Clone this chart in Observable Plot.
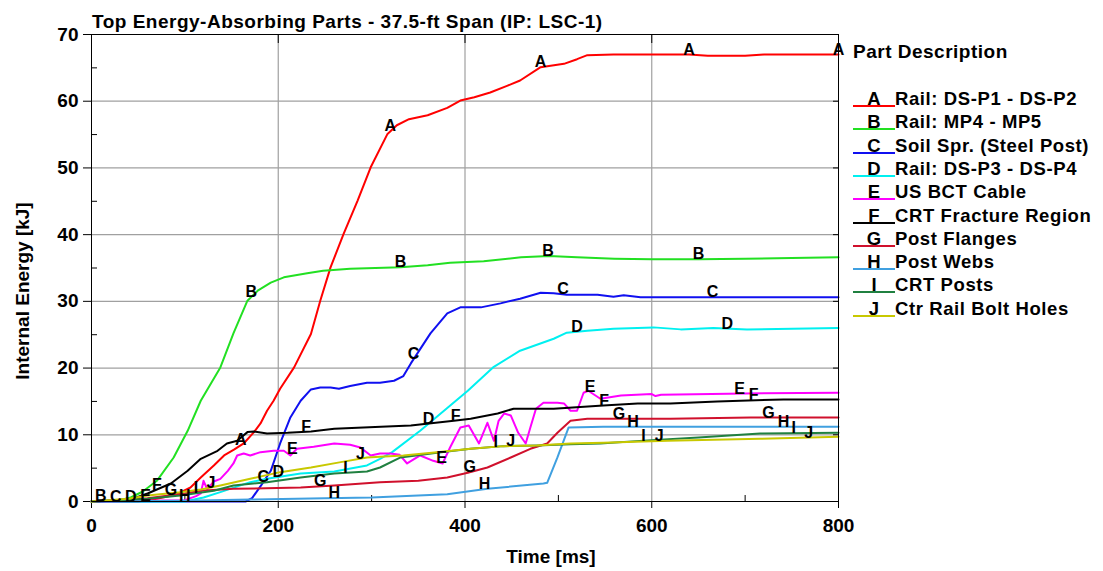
<!DOCTYPE html>
<html><head><meta charset="utf-8">
<script src="https://cdn.jsdelivr.net/npm/d3@7"></script>
<script src="https://cdn.jsdelivr.net/npm/@observablehq/plot@0.6"></script>
<style>
body{margin:0;background:#fff;font-family:"Liberation Sans",Arial,sans-serif;}
#wrap{position:relative;width:1103px;height:571px;overflow:hidden;background:#fff;}
#chart{position:absolute;left:0;top:0;}
.t{position:absolute;font-weight:bold;white-space:nowrap;color:#000;line-height:1;}
.row{position:absolute;left:853px;font-weight:bold;font-size:18.5px;white-space:nowrap;line-height:1;letter-spacing:0.6px;}
.sw{display:inline-block;width:42px;text-align:center;border-bottom:2px solid;line-height:13px;letter-spacing:0;}
</style></head><body><div id="wrap"><div id="chart"></div></div>
<script>
// ---- data ----
const title = "Top Energy-Absorbing Parts - 37.5-ft Span (IP: LSC-1)";
const xLabel = "Time [ms]";
const yLabel = "Internal Energy [kJ]";
const legendTitle = "Part Description";
const keys = ["A","B","C","D","E","F","G","H","I","J"];
const names = ["Rail: DS-P1 - DS-P2","Rail: MP4 - MP5","Soil Spr. (Steel Post)","Rail: DS-P3 - DS-P4","US BCT Cable","CRT Fracture Region","Post Flanges","Post Webs","CRT Posts","Ctr Rail Bolt Holes"];
const colors = ["#ff0000","#22e022","#1010f0","#00f0f0","#ff00ff","#000000","#d0102c","#40a0e0","#208040","#c8c800"];
const xMajor = [0,200,400,600,800];
const xMinor = [100,300,500,700];
const yMajor = [0,10,20,30,40,50,60,70];
const yMinor = [5,15,25,35,45,55,65];
const xGrid = [200,400,600];
const yGrid = [10,20,30,40,50,60];

const sA = [[0,0],[50,0],[70,0.4],[90,1.0],[106,2.1],[117,3.6],[131,5.4],[142,6.9],[153,7.8],[163,8.7],[174,10.4],[181,11.7],[188,13.6],[195,15.1],[202,16.9],[217,20.1],[235,25.1],[245,30.1],[256,35.1],[270,40.1],[285,45.1],[299,50.1],[317,55.1],[327,56.4],[340,57.3],[360,57.9],[381,59.0],[395,60.1],[410,60.6],[427,61.3],[445,62.3],[459,63.1],[481,65.1],[506,65.6],[520,66.3],[531,66.9],[559,67.0],[640,67.0],[660,66.8],[700,66.8],[720,67.0],[800,67.0]];
const sB = [[0,0],[30,0.2],[42,0.6],[55,1.5],[70,3.1],[88,6.6],[103,10.6],[117,15.1],[138,20.1],[152,25.2],[167,30.1],[178,31.6],[192,32.8],[206,33.6],[231,34.2],[248,34.6],[277,34.9],[331,35.1],[360,35.4],[384,35.8],[420,36.0],[460,36.6],[490,36.8],[520,36.6],[560,36.4],[600,36.3],[650,36.3],[700,36.4],[750,36.5],[800,36.6]];
const sC = [[0,0],[165,0],[172,0.5],[182,2.5],[192,4.6],[202,8.7],[213,12.6],[224,15.1],[235,16.8],[245,17.1],[256,17.1],[265,16.9],[277,17.3],[295,17.8],[309,17.8],[324,18.1],[334,18.8],[342,20.7],[363,25.2],[381,28.2],[395,29.1],[417,29.1],[438,29.7],[459,30.4],[481,31.3],[495,31.2],[509,31.0],[542,31.0],[559,30.7],[570,30.9],[588,30.6],[631,30.6],[700,30.6],[800,30.6]];
const sD = [[0,0],[100,0],[120,0.6],[138,1.4],[170,2.9],[188,3.4],[224,4.2],[260,4.5],[295,5.4],[309,6.4],[322,7.4],[352,10.6],[381,14.0],[403,16.6],[430,20.1],[459,22.6],[495,24.4],[509,25.3],[531,25.6],[559,25.9],[602,26.1],[631,25.8],[666,26.0],[702,25.8],[800,26.0]];
const sE = [[0,0],[100,0.2],[112,0.8],[117,1.2],[120,3.1],[124,1.8],[131,3.0],[138,3.4],[146,4.6],[152,5.7],[156,6.9],[163,7.2],[170,6.9],[181,7.4],[195,7.6],[206,7.6],[213,6.9],[220,7.9],[238,8.2],[260,8.7],[277,8.5],[288,8.1],[299,6.9],[309,7.2],[320,7.2],[330,7.0],[338,5.7],[352,6.9],[366,6.1],[376,5.7],[384,8.1],[395,11.1],[404,11.4],[415,8.7],[424,11.8],[431,9.1],[436,12.1],[442,13.2],[449,12.9],[457,10.3],[465,8.7],[470,11.1],[476,13.9],[484,14.8],[499,14.8],[506,14.7],[513,13.6],[520,13.6],[527,16.3],[532,16.6],[545,15.4],[567,15.9],[600,16.1],[604,15.8],[610,16.0],[700,16.2],[800,16.3]];
const sF = [[0,0],[40,0.2],[60,1.2],[85,2.7],[103,4.6],[117,6.4],[135,7.6],[145,8.7],[156,9.1],[167,10.4],[174,10.5],[188,10.2],[210,10.3],[235,10.5],[260,10.9],[310,11.2],[342,11.4],[388,12.1],[406,12.4],[435,13.2],[452,13.9],[495,13.9],[548,14.4],[585,14.7],[620,14.7],[670,15.0],[741,15.3],[800,15.3]];
const sG = [[0,0],[60,0.5],[100,1.2],[117,1.6],[152,1.9],[224,2.1],[260,2.4],[309,2.9],[350,3.1],[381,3.6],[403,4.3],[424,5.1],[449,6.6],[470,7.9],[488,8.7],[499,10.3],[513,12.1],[531,12.4],[620,12.4],[706,12.6],[800,12.6]];
const sH = [[0,0],[100,0.1],[170,0.3],[250,0.5],[300,0.6],[381,1.1],[424,1.9],[484,2.7],[488,2.8],[499,6.6],[511,11.1],[548,11.2],[800,11.2]];
const sI = [[0,0],[60,0.4],[95,0.9],[131,1.6],[152,2.4],[188,2.9],[224,3.6],[260,4.2],[295,4.5],[309,5.1],[331,6.6],[370,7.3],[406,7.9],[441,8.3],[477,8.4],[513,8.6],[545,8.7],[600,9.2],[650,9.6],[716,10.2],[800,10.3]];
const sJ = [[0,0],[40,0.4],[60,0.9],[95,1.4],[117,1.8],[138,2.4],[170,3.4],[202,4.4],[235,5.1],[267,5.9],[295,6.6],[309,6.7],[334,6.9],[370,7.4],[406,7.9],[441,8.3],[477,8.4],[513,8.7],[548,8.8],[617,9.1],[716,9.4],[800,9.7]];
const series = [sA,sB,sC,sD,sE,sF,sG,sH,sI,sJ];

// letter label times per series
const labelTimes = [
  [160,320,481,640,800],
  [10,171,331,489,650],
  [26,184,345,505,665],
  [42,200,361,520,681],
  [58,215,375,534,694],
  [70,230,390,549,709],
  [85,245,405,565,725],
  [100,260,421,580,741],
  [112,272,433,591,752],
  [128,288,449,608,768]
];

// ---- build ----
const rows = [];
series.forEach((s, i) => s.forEach(([t, e]) => rows.push({key: keys[i], t, e})));
function interp(s, t) {
  for (let j = 1; j < s.length; j++) {
    if (t <= s[j][0]) {
      const [t0, e0] = s[j-1], [t1, e1] = s[j];
      return e0 + (e1 - e0) * (t - t0) / (t1 - t0);
    }
  }
  return s[s.length-1][1];
}
const labels = [];
labelTimes.forEach((ts, i) => ts.forEach(t => labels.push({key: keys[i], t, e: interp(series[i], t)})));

const blank = () => "";
const chart = Plot.plot({
  width: 1103, height: 571,
  marginLeft: 91, marginRight: 265, marginTop: 34, marginBottom: 70,
  x: {domain: [0, 800]},
  y: {domain: [0, 70]},
  color: {domain: keys, range: colors},
  style: {fontFamily: "'Liberation Sans', Arial, sans-serif", fontSize: "19px", fontWeight: "bold", background: "white", overflow: "visible", color: "black"},
  marks: [
    Plot.gridX(xGrid, {stroke: "#a0a0a0", strokeOpacity: 1, strokeWidth: 1.2}),
    Plot.gridY(yGrid, {stroke: "#a0a0a0", strokeOpacity: 1, strokeWidth: 1.2}),
    Plot.axisX(xMajor, {tickSize: 7, tickPadding: 10, label: null}),
    Plot.axisX(xMinor, {tickSize: 6, dy: -6, tickFormat: blank, label: null}),
    Plot.axisX(xMajor, {anchor: "top", tickSize: 8, dy: 8, tickFormat: blank, label: null}),
    Plot.axisY(yMajor, {tickSize: 8, tickPadding: 5, label: null}),
    Plot.axisY(yMinor, {tickSize: 6, dx: 6, tickFormat: blank, label: null}),
    Plot.axisY(yMajor, {anchor: "right", tickSize: 6, dx: -6, tickFormat: blank, label: null}),
    Plot.line(rows, {x: "t", y: "e", z: "key", stroke: "key", strokeWidth: 2}),
    Plot.frame({stroke: "#000", strokeWidth: 1}),
    Plot.text(labels, {x: "t", y: "e", text: "key", dy: -5, fill: "black", fontSize: 16, fontWeight: "bold"})
  ]
});
document.getElementById("chart").appendChild(chart);

// ---- overlays ----
const wrap = document.getElementById("wrap");
function addText(txt, style) {
  const d = document.createElement("div");
  d.className = "t";
  d.textContent = txt;
  Object.assign(d.style, style);
  wrap.appendChild(d);
  return d;
}
addText(title, {left: "92px", top: "12px", fontSize: "19px", letterSpacing: "0.5px"});
addText(xLabel, {left: "551px", top: "547px", fontSize: "19px", transform: "translateX(-50%)"});
addText(yLabel, {left: "22px", top: "291px", fontSize: "19px", transform: "translate(-50%,-50%) rotate(-90deg)"});
addText(legendTitle, {left: "853px", top: "42px", fontSize: "19px", letterSpacing: "0.5px"});
keys.forEach((k, i) => {
  const r = document.createElement("div");
  r.className = "row";
  r.style.top = (90 + i * 23.3) + "px";
  const sw = document.createElement("span");
  sw.className = "sw";
  sw.style.borderColor = colors[i];
  sw.textContent = k;
  r.appendChild(sw);
  r.appendChild(document.createTextNode(names[i]));
  wrap.appendChild(r);
});
</script></body></html>
